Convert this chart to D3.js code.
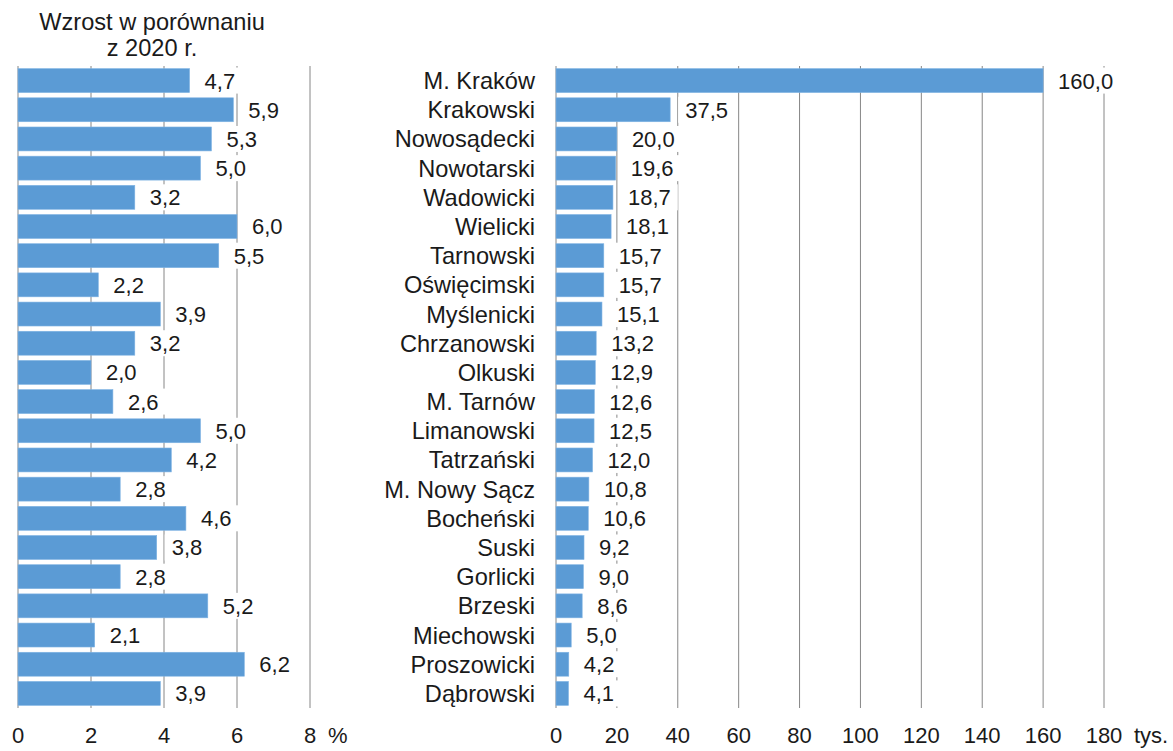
<!DOCTYPE html>
<html>
<head>
<meta charset="utf-8">
<script src="https://cdn.jsdelivr.net/npm/d3@7"></script>
<style>
  body { margin: 0; background: #fff; }
  text { font-family: 'Liberation Sans', Arial, sans-serif; fill: #1a1a1a; }
</style>
</head>
<body>
<script>
let categories = ['M. Kraków', 'Krakowski', 'Nowosądecki', 'Nowotarski', 'Wadowicki', 'Wielicki',
  'Tarnowski', 'Oświęcimski', 'Myślenicki', 'Chrzanowski', 'Olkuski', 'M. Tarnów', 'Limanowski',
  'Tatrzański', 'M. Nowy Sącz', 'Bocheński', 'Suski', 'Gorlicki', 'Brzeski', 'Miechowski',
  'Proszowicki', 'Dąbrowski'];
let growth = [4.7, 5.9, 5.3, 5.0, 3.2, 6.0, 5.5, 2.2, 3.9, 3.2, 2.0, 2.6, 5.0, 4.2, 2.8, 4.6, 3.8, 2.8, 5.2, 2.1, 6.2, 3.9];
let counts = [160.0, 37.5, 20.0, 19.6, 18.7, 18.1, 15.7, 15.7, 15.1, 13.2, 12.9, 12.6, 12.5, 12.0, 10.8, 10.6, 9.2, 9.0, 8.6, 5.0, 4.2, 4.1];
let growthTicks = [0, 2, 4, 6, 8];
let countTicks = [0, 20, 40, 60, 80, 100, 120, 140, 160, 180];
let titleLines = ['Wzrost w porównaniu', 'z 2020 r.'];

let width = 1173, height = 751;
let fontSize = 22, labelSize = 23.6;
let barColor = '#5b9bd5', gridColor = '#868686';
let fmt = v => d3.format('.1f')(v).replace('.', ',');

let svg = d3.select('body').append('svg')
  .attr('width', width)
  .attr('height', height);

let y = d3.scaleBand().domain(categories).range([66, 708]).paddingInner(0.18).paddingOuter(0.09);

function panel(values, ticks, x, unit, unitX) {
  let g = svg.append('g');
  // grid lines
  g.selectAll('line.grid').data(ticks).enter().append('line')
    .attr('x1', d => x(d)).attr('x2', d => x(d))
    .attr('y1', 66).attr('y2', 708)
    .attr('stroke', gridColor).attr('stroke-width', 1);
  // bars
  g.selectAll('rect.bar').data(values).enter().append('rect')
    .attr('x', x(0))
    .attr('y', (d, i) => y(categories[i]))
    .attr('width', d => x(d) - x(0))
    .attr('height', y.bandwidth())
    .attr('fill', barColor)
    .attr('stroke', '#7fb3e3').attr('stroke-width', 0.6);
  // value labels with white boxes
  let lab = g.selectAll('g.lab').data(values).enter().append('g')
    .attr('transform', (d, i) => 'translate(' + (x(d) + 15) + ',' + (y(categories[i]) + y.bandwidth() / 2) + ')');
  lab.append('text')
    .attr('dy', '0.36em')
    .style('font-size', fontSize + 'px')
    .text(d => fmt(d));
  lab.each(function() {
    let t = d3.select(this).select('text');
    let w = t.node().getComputedTextLength();
    d3.select(this).insert('rect', 'text')
      .attr('x', -7).attr('y', -13).attr('width', w + 14).attr('height', 26)
      .attr('fill', '#fff');
  });
  // tick labels
  g.selectAll('text.tick').data(ticks).enter().append('text')
    .attr('x', d => x(d)).attr('y', 743)
    .attr('text-anchor', 'middle')
    .style('font-size', fontSize + 'px')
    .text(d => d);
  g.append('text').attr('x', unitX).attr('y', 743)
    .style('font-size', fontSize + 'px')
    .text(unit);
}

let xl = d3.scaleLinear().domain([0, 8]).range([18, 310]);
let xr = d3.scaleLinear().domain([0, 180]).range([556, 1104]);

panel(growth, growthTicks, xl, '%', 328);
panel(counts, countTicks, xr, 'tys.', 1134);

// category labels
svg.append('g').selectAll('text').data(categories).enter().append('text')
  .attr('x', 535)
  .attr('y', d => y(d) + y.bandwidth() / 2)
  .attr('dy', '0.36em')
  .attr('text-anchor', 'end')
  .style('font-size', labelSize + 'px')
  .text(d => d);

// title
svg.append('text')
  .attr('x', 152).attr('y', 30)
  .attr('text-anchor', 'middle')
  .style('font-size', labelSize + 'px')
  .selectAll('tspan').data(titleLines).enter().append('tspan')
  .attr('x', 152)
  .attr('dy', (d, i) => i ? 26 : 0)
  .text(d => d);
</script>
</body>
</html>
